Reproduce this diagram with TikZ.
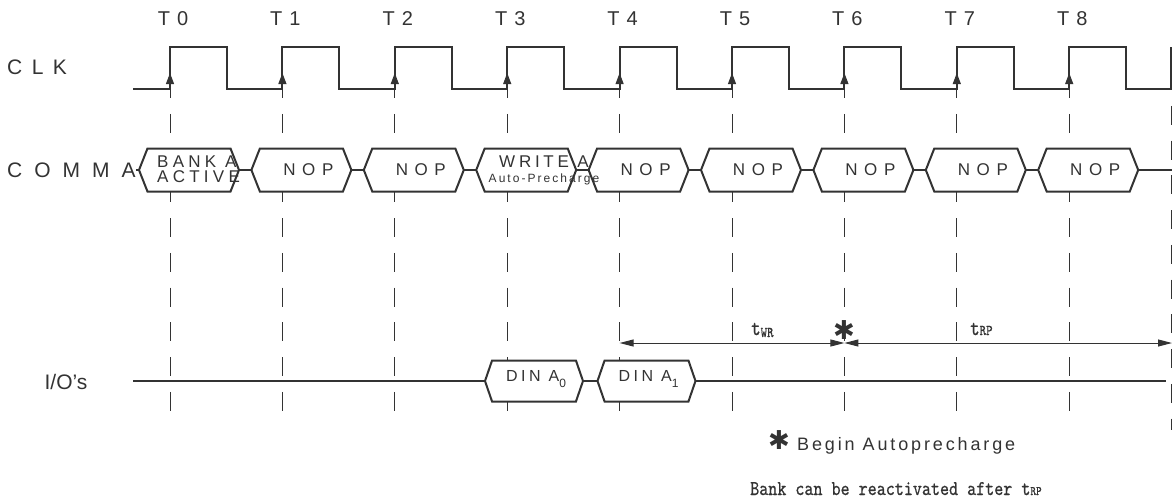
\documentclass[tikz,border=0pt]{standalone}
\usepackage{fontspec}
\setmainfont{Liberation Sans}
\newfontfamily\symfont{DejaVu Sans}
\newfontfamily\narrowtt{lmmono10-regular.otf}[FakeStretch=0.82, FakeBold=0.6]
\usetikzlibrary{arrows.meta,shapes.symbols}
\definecolor{ink}{HTML}{333333}

\begin{document}
\begin{tikzpicture}[x=1pt, y=-1pt,
  wave/.style={draw=ink, line width=2pt},
  tick/.style={draw=ink, line width=1pt, dash pattern=on 19pt off 15.75pt},
  timing/.style={draw=ink, line width=1pt, {Triangle[length=14pt,width=7pt]}-{Triangle[length=14pt,width=7pt]}},
  cmdbox/.style={signal, signal to=west and east, signal pointer angle=137, draw=ink, line width=2pt,
    fill=white, minimum width=100pt, minimum height=43pt, inner sep=0pt, outer sep=0pt},
  dinbox/.style={cmdbox, signal pointer angle=142, minimum width=98pt, minimum height=41pt},
  spaced/.style 2 args={text=ink, inner sep=0pt, font=\fontsize{#1}{#1}\selectfont\addfontfeature{LetterSpace=#2}},
  narrow/.style={text=ink, inner sep=0pt, font=\narrowtt\fontsize{#1}{#1}\selectfont},
  starmark/.style={text=ink, inner sep=0pt, font=\symfont\fontsize{26}{26}\selectfont}]
  \useasboundingbox (0,0) rectangle (1172,501);

  % dashed guides at the clock edges
  \foreach \i in {0,...,8}
    \draw[tick] ({170+112.4*\i},79) -- ({170+112.4*\i},411);
  \draw[tick] (1171,71) -- (1171,430);

  \draw[wave] (133,89) foreach \i in {0,...,8} { -- ({170+112.4*\i},89) -- ++(0,-42) -- ++(57,0) -- ++(0,42) }
    -- (1171,89) -- (1171,47);
  \foreach \i in {0,...,8} {
    \draw[ink, line width=1pt, -{Triangle[length=11pt,width=8pt]}] ({170+112.4*\i},89) -- ++(0,-16);
    \node[spaced={20}{35}] (T\i) at ({173+112.4*\i},19) {T\i};
  }
  \node[spaced={21}{45}, anchor=west] (clk) at (7,67) {CLK};

  % command row
  \node[spaced={21}{57}, anchor=west] (comma) at (7,170) {COMMA};
  \foreach \i in {0,...,8}
    \node[cmdbox] (cmd\i) at ({189+112.4*\i},170) {};
  \foreach \i in {1,2,4,5,6,7,8}
    \node[spaced={17}{39}] (nop\i) at ({196+112.4*\i},170) {NOP};
  \node[spaced={17}{25}, anchor=base west] (banka) at (157,167) {BANK A};
  \node[spaced={17}{25}, anchor=base west] (active) at (157,182) {ACTIVE};
  \node[spaced={17}{22}, anchor=base] (writea) at (544,167) {WRITE A};
  \node[spaced={12}{17}, anchor=base] (autopre) at (544,182) {Auto-Precharge};
  \draw[wave] (comma.east) -- (cmd0.west);
  \foreach \i [remember=\i as \last (initially 0)] in {1,...,8}
    \draw[wave] (cmd\last.east) -- (cmd\i.west);
  \coordinate (cmdend) at (1172,170);
  \draw[wave] (cmd8.east) -- (cmdend);

  % data row
  \node[text=ink, inner sep=0pt, font=\fontsize{21}{21}\selectfont] (io) at (66,382) {I/O’s};
  \coordinate (iostart) at (133,381);
  \node[dinbox] (din0) at (534,381) {};
  \node[dinbox] (din1) at (646.5,381) {};
  \coordinate (ioend) at (1166,381);
  \draw[wave] (iostart) -- (din0.west);
  \draw[wave] (din0.east) -- (din1.west);
  \draw[wave] (din1.east) -- (ioend);
  \node[spaced={16}{22}] (dina0) at (536,379) {DIN A\raisebox{-6pt}{\fontsize{12}{12}\selectfont 0}};
  \node[spaced={16}{22}] (dina1) at (648.5,379) {DIN A\raisebox{-6pt}{\fontsize{12}{12}\selectfont 1}};

  % write recovery and precharge times
  \coordinate (wr0) at (619.6,343);
  \coordinate (wr1) at (844.4,343);
  \coordinate (rp1) at (1172,343);
  \draw[timing] (wr0) -- (wr1);
  \draw[timing] (wr1) -- (rp1);
  \node[starmark] (apstar) at (844,330) {✱};
  \node[narrow=22, anchor=base west] (twr) at (751,335) {t\raisebox{-2pt}{\fontsize{15}{15}\selectfont WR}};
  \node[narrow=22, anchor=base west] (trp) at (970,335) {t{\fontsize{15}{15}\selectfont RP}};

  \node[starmark] (notestar) at (779,440) {✱};
  \node[spaced={18}{16}, anchor=base west] (note) at (797,450) {Begin Autoprecharge};
  \node[narrow=21, anchor=base west] (bank) at (750,495) {Bank can be reactivated after t{\fontsize{13}{13}\selectfont RP}};
\end{tikzpicture}
\end{document}
